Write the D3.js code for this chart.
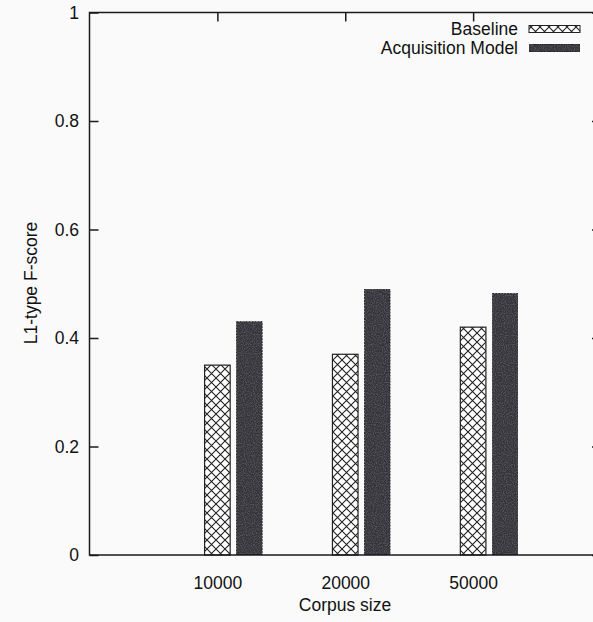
<!DOCTYPE html>
<html><head><meta charset="utf-8">
<script src="https://cdn.jsdelivr.net/npm/d3@7"></script>
<style>
html,body{margin:0;padding:0;background:#fafafa;}
svg{display:block;font-family:"Liberation Sans",Arial,sans-serif;}
</style></head>
<body>
<script>
const categories = ["10000", "20000", "50000"];
const baseline = [0.35, 0.37, 0.42];
const acquisition = [0.43, 0.49, 0.482];
const seriesNames = ["Baseline", "Acquisition Model"];
const yTicks = [0, 0.2, 0.4, 0.6, 0.8, 1];
const yTickLabels = ["0", "0.2", "0.4", "0.6", "0.8", "1"];

const W = 593, H = 622;
const m = {left: 89.5, top: 12.5, right: 601, bottom: 555};
const FS = 17.5;

const svg = d3.select("body").append("svg").attr("width", W).attr("height", H);
svg.append("rect").attr("width", W).attr("height", H).attr("fill", "#fafafa");

const defs = svg.append("defs");
const pat = defs.append("pattern").attr("id", "hatch").attr("patternUnits", "userSpaceOnUse")
  .attr("width", 9).attr("height", 9).attr("x", 0).attr("y", 0);
pat.append("rect").attr("width", 9).attr("height", 9).attr("fill", "#fff");
pat.append("path").attr("d", "M0,0L9,9M9,0L0,9").attr("stroke", "#222").attr("stroke-width", 1.1).attr("fill", "none");

const f = defs.append("filter").attr("id", "grain").attr("x", 0).attr("y", 0).attr("width", 1).attr("height", 1);
f.append("feTurbulence").attr("type", "fractalNoise").attr("baseFrequency", 0.9).attr("numOctaves", 1).attr("seed", 3).attr("result", "n");
f.append("feColorMatrix").attr("in", "n").attr("type", "matrix")
  .attr("values", "0 0 0 0 0.30  0 0 0 0 0.29  0 0 0 0 0.33  0 0 0 0.7 -0.3").attr("result", "nc");
f.append("feComposite").attr("in", "nc").attr("in2", "SourceGraphic").attr("operator", "in").attr("result", "nn");
f.append("feMerge").selectAll("feMergeNode").data(["SourceGraphic", "nn"]).enter().append("feMergeNode").attr("in", d => d);

const x = d3.scaleLinear().domain([-1, 3]).range([m.left, m.right]);
const y = d3.scaleLinear().domain([0, 1]).range([m.bottom, m.top]);

const slot = 0.25, bw = 0.2;
const dark = "#36343a";

// bars
const g = svg.append("g");
categories.forEach((c, i) => {
  const x0 = x(i - bw / 2), x1 = x(i + bw / 2);
  g.append("rect").attr("x", x0).attr("y", y(baseline[i])).attr("width", x1 - x0)
    .attr("height", y(0) - y(baseline[i])).attr("fill", "url(#hatch)")
    .attr("stroke", "#222").attr("stroke-width", 1.2);
  const a0 = x(i + slot - bw / 2), a1 = x(i + slot + bw / 2);
  g.append("rect").attr("x", a0).attr("y", y(acquisition[i])).attr("width", a1 - a0)
    .attr("height", y(0) - y(acquisition[i])).attr("fill", dark)
    .attr("stroke", "#262428").attr("stroke-width", 1).attr("stroke-dasharray", "2,1")
    .attr("filter", "url(#grain)");
});

// frame
svg.append("rect").attr("x", m.left).attr("y", m.top).attr("width", m.right - m.left)
  .attr("height", m.bottom - m.top).attr("fill", "none").attr("stroke", "#1a1a1a").attr("stroke-width", 1.5);

// y axis (left) with inward ticks
const yAxisL = d3.axisRight(y).tickValues(yTicks).tickSize(9).tickFormat("");
svg.append("g").attr("transform", `translate(${m.left},0)`).call(yAxisL)
  .call(s => s.select(".domain").remove())
  .call(s => s.selectAll("line").attr("stroke", "#1a1a1a").attr("stroke-width", 1.5));
const yAxisR = d3.axisLeft(y).tickValues(yTicks).tickSize(9).tickFormat("");
svg.append("g").attr("transform", `translate(${m.right},0)`).call(yAxisR)
  .call(s => s.select(".domain").remove())
  .call(s => s.selectAll("line").attr("stroke", "#1a1a1a").attr("stroke-width", 1.5));
// y labels
svg.append("g").selectAll("text").data(yTicks).enter().append("text")
  .attr("x", 79).attr("y", d => y(d)).attr("dy", "0.36em").attr("text-anchor", "end")
  .attr("font-size", FS).attr("fill", "#111").text((d, i) => yTickLabels[i]);

// x axis: top mirrored ticks, bottom labels
const xPos = categories.map((c, i) => i);
const xAxisT = d3.axisBottom(x).tickValues(xPos).tickSize(9).tickFormat("");
svg.append("g").attr("transform", `translate(0,${m.top})`).call(xAxisT)
  .call(s => s.select(".domain").remove())
  .call(s => s.selectAll("line").attr("stroke", "#1a1a1a").attr("stroke-width", 1.5));
const xAxisB = d3.axisBottom(x).tickValues(xPos).tickSize(0).tickPadding(22)
  .tickFormat(i => categories[i]);
svg.append("g").attr("transform", `translate(0,${m.bottom})`).call(xAxisB)
  .call(s => s.select(".domain").remove())
  .call(s => s.selectAll("text").attr("font-size", FS).attr("fill", "#111")
    .attr("font-family", "Liberation Sans, Arial, sans-serif"));

// axis titles
svg.append("text").attr("x", 345).attr("y", 611).attr("text-anchor", "middle")
  .attr("font-size", FS).attr("fill", "#111").text("Corpus size");
svg.append("text").attr("transform", "translate(37,283) rotate(-90)").attr("text-anchor", "middle")
  .attr("font-size", FS).attr("fill", "#111").text("L1-type F-score");

// legend
const legY = [29, 48];
const lg = svg.append("g");
seriesNames.forEach((n, i) => {
  lg.append("text").attr("x", 518).attr("y", legY[i]).attr("dy", "0.36em").attr("text-anchor", "end")
    .attr("font-size", FS).attr("fill", "#111").text(n);
  lg.append("rect").attr("x", 529).attr("y", legY[i] - 3.5).attr("width", 51).attr("height", 7)
    .attr("fill", i === 0 ? "url(#hatch)" : dark)
    .attr("stroke", i === 0 ? "#222" : "#262428").attr("stroke-width", 1)
    .attr("filter", i === 0 ? null : "url(#grain)");
});
</script>
</body></html>
